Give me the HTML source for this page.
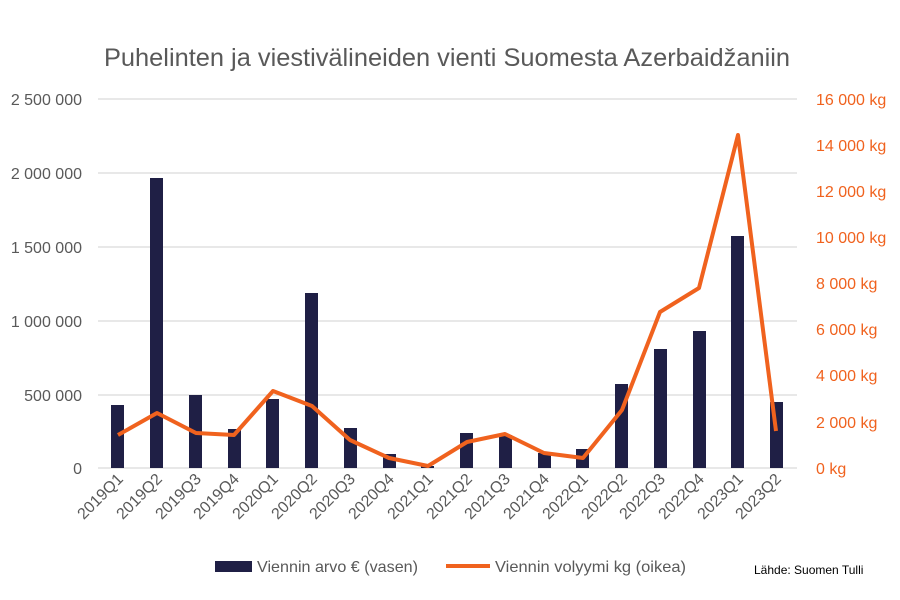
<!DOCTYPE html>
<html><head><meta charset="utf-8"><style>
html,body{margin:0;padding:0;background:#fff;}
svg{display:block;font-family:"Liberation Sans",sans-serif;}
</style></head><body>
<svg width="900" height="600" viewBox="0 0 900 600" xmlns="http://www.w3.org/2000/svg">
<rect width="900" height="600" fill="#fff"/>
<text x="447" y="66" text-anchor="middle" font-size="25" fill="#595959" textLength="686" lengthAdjust="spacingAndGlyphs">Puhelinten ja viestivälineiden vienti Suomesta Azerbaidžaniin</text>
<g stroke="#d9d9d9" stroke-width="1.3">
<line x1="98" y1="99" x2="797" y2="99"/><line x1="98" y1="173" x2="797" y2="173"/><line x1="98" y1="247" x2="797" y2="247"/><line x1="98" y1="321" x2="797" y2="321"/><line x1="98" y1="395" x2="797" y2="395"/><line x1="98" y1="468" x2="797" y2="468"/>
</g>
<g font-size="16" fill="#595959" text-anchor="end">
<text x="82" y="105">2 500 000</text><text x="82" y="179">2 000 000</text><text x="82" y="253">1 500 000</text><text x="82" y="327">1 000 000</text><text x="82" y="401">500 000</text><text x="82" y="474">0</text>
</g>
<g font-size="16" fill="#f0621e">
<text x="816" y="105">16 000 kg</text><text x="816" y="151">14 000 kg</text><text x="816" y="197">12 000 kg</text><text x="816" y="243">10 000 kg</text><text x="816" y="289">8 000 kg</text><text x="816" y="335">6 000 kg</text><text x="816" y="381">4 000 kg</text><text x="816" y="428">2 000 kg</text><text x="816" y="474">0 kg</text>
</g>
<g fill="#1f1f45">
<rect x="111" y="405" width="13" height="63"/>
<rect x="150" y="178" width="13" height="290"/>
<rect x="189" y="395" width="13" height="73"/>
<rect x="228" y="429" width="13" height="39"/>
<rect x="266" y="399" width="13" height="69"/>
<rect x="305" y="293" width="13" height="175"/>
<rect x="344" y="428" width="13" height="40"/>
<rect x="383" y="454" width="13" height="14"/>
<rect x="421" y="466" width="13" height="2"/>
<rect x="460" y="433" width="13" height="35"/>
<rect x="499" y="435" width="13" height="33"/>
<rect x="538" y="453" width="13" height="15"/>
<rect x="576" y="449" width="13" height="19"/>
<rect x="615" y="384" width="13" height="84"/>
<rect x="654" y="349" width="13" height="119"/>
<rect x="693" y="331" width="13" height="137"/>
<rect x="731" y="236" width="13" height="232"/>
<rect x="770" y="402" width="13" height="66"/>
</g>
<polyline fill="none" stroke="#f0621e" stroke-width="4" stroke-linejoin="round" points="118,435 157,413 196,433 234,435 273,391 312,406 350,440 389,458 428,466 467,442 505,434 544,453 583,458 622,410 660,312 699,288 738,135 776,431"/>
<g font-size="16" fill="#595959" text-anchor="end">
<text transform="translate(124,480) rotate(-45)">2019Q1</text>
<text transform="translate(163,480) rotate(-45)">2019Q2</text>
<text transform="translate(202,480) rotate(-45)">2019Q3</text>
<text transform="translate(240,480) rotate(-45)">2019Q4</text>
<text transform="translate(279,480) rotate(-45)">2020Q1</text>
<text transform="translate(318,480) rotate(-45)">2020Q2</text>
<text transform="translate(356,480) rotate(-45)">2020Q3</text>
<text transform="translate(395,480) rotate(-45)">2020Q4</text>
<text transform="translate(434,480) rotate(-45)">2021Q1</text>
<text transform="translate(473,480) rotate(-45)">2021Q2</text>
<text transform="translate(511,480) rotate(-45)">2021Q3</text>
<text transform="translate(550,480) rotate(-45)">2021Q4</text>
<text transform="translate(589,480) rotate(-45)">2022Q1</text>
<text transform="translate(628,480) rotate(-45)">2022Q2</text>
<text transform="translate(666,480) rotate(-45)">2022Q3</text>
<text transform="translate(705,480) rotate(-45)">2022Q4</text>
<text transform="translate(744,480) rotate(-45)">2023Q1</text>
<text transform="translate(782,480) rotate(-45)">2023Q2</text>
</g>
<rect x="215" y="561" width="37" height="11" fill="#1f1f45"/>
<text x="257" y="572" font-size="16" fill="#595959" textLength="161" lengthAdjust="spacingAndGlyphs">Viennin arvo € (vasen)</text>
<line x1="446" y1="566" x2="490" y2="566" stroke="#f0621e" stroke-width="4"/>
<text x="495" y="572" font-size="16" fill="#595959" textLength="191" lengthAdjust="spacingAndGlyphs">Viennin volyymi kg (oikea)</text>
<text x="754" y="574" font-size="12" fill="#000">Lähde: Suomen Tulli</text>
</svg>
</body></html>
